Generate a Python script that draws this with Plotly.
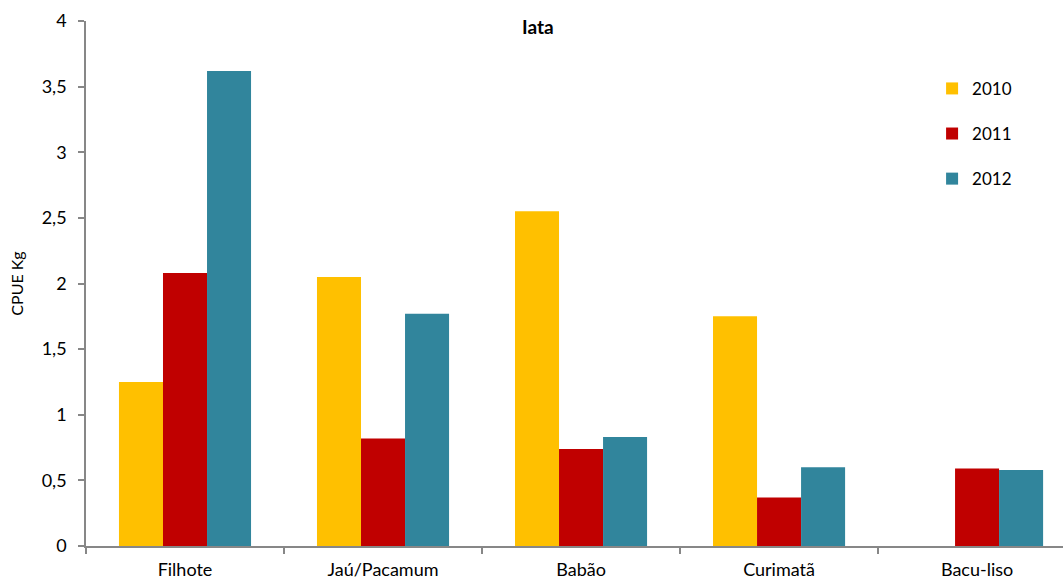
import plotly.graph_objects as go

categories = ["Filhote", "Jaú/Pacamum", "Babão", "Curimatã", "Bacu-liso"]
years = ["2010", "2011", "2012"]
cpue_2010 = [1.25, 2.05, 2.55, 1.75, 0]
cpue_2011 = [2.08, 0.82, 0.74, 0.37, 0.59]
cpue_2012 = [3.62, 1.77, 0.83, 0.60, 0.58]
colors = ["#FFC000", "#C00000", "#31859C"]

font_family = "Lato, 'Open Sans', sans-serif"

fig = go.Figure()
for year, vals, col in zip(years, [cpue_2010, cpue_2011, cpue_2012], colors):
    fig.add_trace(go.Bar(
        name=year, x=categories, y=vals, marker_color=col,
        marker_line_width=0, legendgroup=year,
    ))

fig.update_layout(
    width=1063, height=582,
    margin=dict(l=86, r=0, t=21, b=36),
    paper_bgcolor="white", plot_bgcolor="white",
    barmode="group", bargap=0.333, bargroupgap=0,
    separators=", ",
    font=dict(family=font_family, size=18, color="#000000"),
    title=dict(text="<b>Iata</b>", x=0.506, xanchor="center", y=0.953, yanchor="middle",
               font=dict(family=font_family, size=19, color="#000000")),
    legend=dict(x=0.866, xanchor="left", y=0.905, yanchor="top",
                font=dict(family=font_family, size=17), tracegroupgap=20,
                itemwidth=30, bgcolor="rgba(0,0,0,0)"),
    xaxis=dict(
        type="category", range=[-0.5, 4.434], tickson="boundaries",
        showline=True, linecolor="#878787", linewidth=1.5,
        ticks="outside", ticklen=6, tickcolor="#878787", tickwidth=1.5,
        showgrid=False, tickfont=dict(size=18), ticklabelstandoff=7,
        automargin=False,
    ),
    yaxis=dict(
        range=[0, 4], dtick=0.5, showline=True, linecolor="#878787", linewidth=1.5,
        ticks="outside", ticklen=6, tickcolor="#878787", tickwidth=1.5,
        showgrid=False, zeroline=False, tickfont=dict(size=18), ticklabelstandoff=8,
        title=dict(text="CPUE Kg", font=dict(size=16), standoff=14),
        automargin=False,
    ),
)

fig.write_html("out.html")
